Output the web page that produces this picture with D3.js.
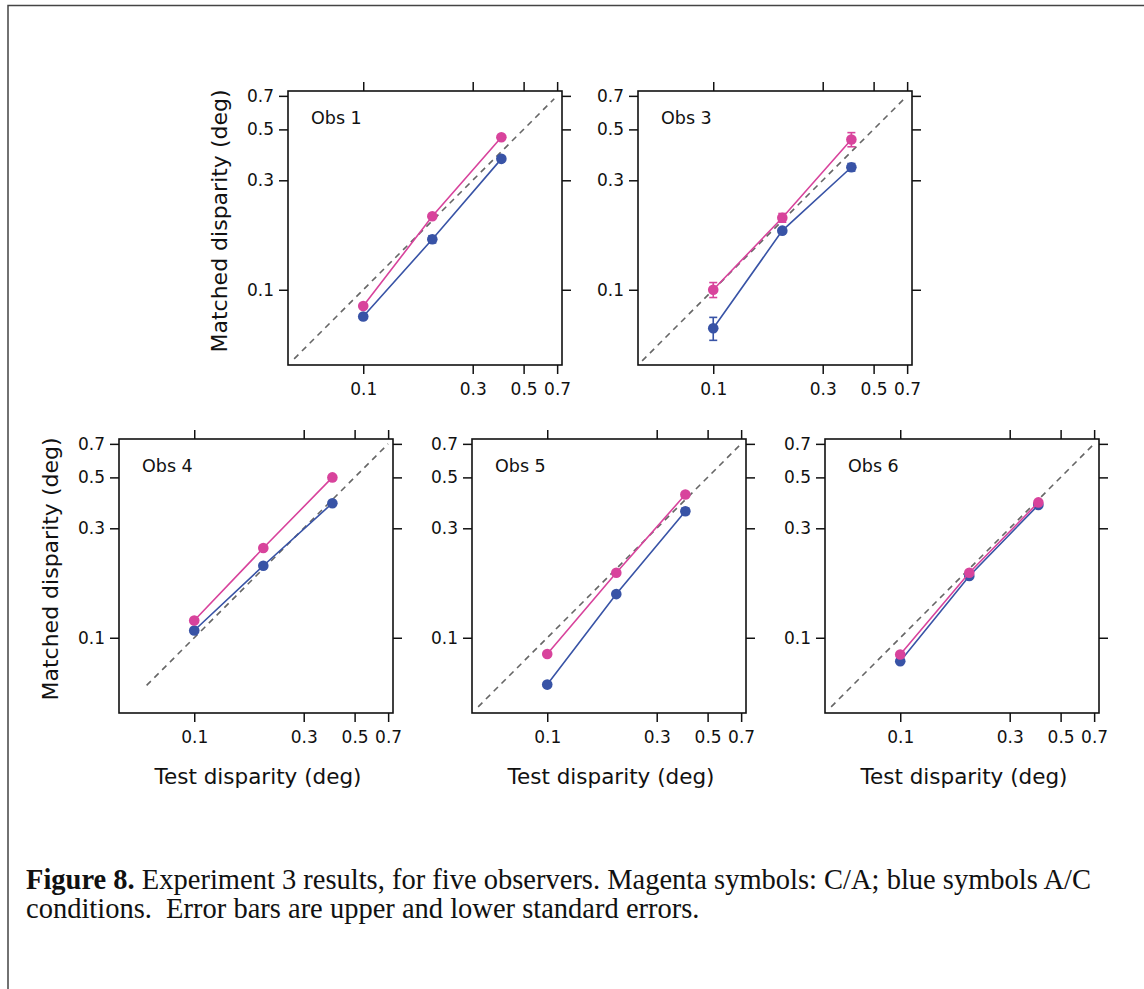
<!DOCTYPE html>
<html>
<head>
<meta charset="utf-8">
<script src="https://cdn.jsdelivr.net/npm/d3@7"></script>
<style>
  body { margin: 0; background: #fff; }
  svg { display: block; }
</style>
</head>
<body>
<div id="chart"></div>
<script>
// observers and test disparities (deg)
var observers = ["Obs 1", "Obs 3", "Obs 4", "Obs 5", "Obs 6"];
var testDisparity = [0.1, 0.2, 0.4];

// matched disparity, magenta = C/A, blue = A/C
var magentaMatch = [
  [0.085, 0.209, 0.462],
  [0.100, 0.206, 0.452],
  [0.119, 0.246, 0.500],
  [0.085, 0.192, 0.421],
  [0.0845, 0.192, 0.389]
];
var blueMatch = [
  [0.0765, 0.166, 0.372],
  [0.068, 0.181, 0.342],
  [0.1076, 0.206, 0.386],
  [0.0625, 0.155, 0.356],
  [0.079, 0.186, 0.379]
];
// standard errors
var magentaSE = [
  [0, 0, 0],
  [0.0075, 0.009, 0.032],
  [0, 0, 0],
  [0, 0, 0],
  [0, 0, 0]
];
var blueSE = [
  [0, 0.006, 0],
  [0.0078, 0, 0.013],
  [0, 0, 0],
  [0, 0, 0.011],
  [0, 0, 0]
];
// extent of the dashed identity line per panel
var diagFrom = [0.050, 0.049, 0.062, 0.050, 0.050];
var diagTo = [0.68, 0.69, 0.70, 0.687, 0.69];

var tickValues = [0.1, 0.3, 0.5, 0.7];
var axisDomain = [0.047, 0.735];

var width = 1144, height = 989;
var size = 274;
// panel frame origins
var panelPos = [
  {x: 288, y: 91, xTitle: false, yTitle: true},
  {x: 638, y: 91, xTitle: false, yTitle: false},
  {x: 119, y: 439, xTitle: true, yTitle: true},
  {x: 472, y: 439, xTitle: true, yTitle: false},
  {x: 825, y: 439, xTitle: true, yTitle: false}
];

var MAGENTA = "#d8439c";
var BLUE = "#3853a6";

var svg = d3.select("#chart").append("svg")
  .attr("width", width)
  .attr("height", height);

// page frame
svg.append("path")
  .attr("d", "M8," + height + "V5.5H" + width)
  .attr("fill", "none")
  .attr("stroke", "#444")
  .attr("stroke-width", 1.5);

var x = d3.scaleLog().domain(axisDomain).range([0, size]);
var y = d3.scaleLog().domain(axisDomain).range([size, 0]);
var fmt = d3.format(".1f");

observers.forEach(function(name, i) {
  var p = panelPos[i];
  var g = svg.append("g").attr("transform", "translate(" + p.x + "," + p.y + ")");

  // axes: labelled bottom/left, bare ticks top/right
  var axes = [
    {ax: d3.axisBottom(x).tickFormat(fmt), t: "translate(0," + size + ")"},
    {ax: d3.axisTop(x).tickFormat(""), t: null},
    {ax: d3.axisLeft(y).tickFormat(fmt), t: null},
    {ax: d3.axisRight(y).tickFormat(""), t: "translate(" + size + ",0)"}
  ];
  axes.forEach(function(a, k) {
    var ag = g.append("g")
      .attr("transform", a.t)
      .call(a.ax.tickValues(tickValues).tickSizeOuter(0).tickSize(9)
        .tickPadding(k === 0 ? 9 : 5));
    ag.select(".domain").remove();
    ag.selectAll("line").attr("stroke", "#111").attr("stroke-width", 1.5);
    ag.selectAll("text")
      .attr("fill", "#111")
      .style("font-family", "'DejaVu Sans', sans-serif")
      .style("font-size", "17px");
  });

  g.append("rect")
    .attr("width", size).attr("height", size)
    .attr("fill", "none")
    .attr("stroke", "#111")
    .attr("stroke-width", 1.6);

  // identity line
  g.append("line")
    .attr("x1", x(diagFrom[i])).attr("y1", y(diagFrom[i]))
    .attr("x2", x(diagTo[i])).attr("y2", y(diagTo[i]))
    .attr("stroke", "#666")
    .attr("stroke-width", 1.6)
    .attr("stroke-dasharray", "6,5");

  var series = [
    {vals: blueMatch[i], se: blueSE[i], color: BLUE},
    {vals: magentaMatch[i], se: magentaSE[i], color: MAGENTA}
  ];
  var line = d3.line()
    .x(function(d) { return x(d[0]); })
    .y(function(d) { return y(d[1]); });

  series.forEach(function(s) {
    var pts = testDisparity.map(function(t, j) { return [t, s.vals[j], s.se[j]]; });
    g.append("path")
      .datum(pts)
      .attr("d", line)
      .attr("fill", "none")
      .attr("stroke", s.color)
      .attr("stroke-width", 1.6);

    var eb = g.selectAll(null)
      .data(pts.filter(function(d) { return d[2] > 0; }))
      .enter().append("g")
      .attr("stroke", s.color)
      .attr("stroke-width", 1.6);
    eb.append("line")
      .attr("x1", function(d) { return x(d[0]); })
      .attr("x2", function(d) { return x(d[0]); })
      .attr("y1", function(d) { return y(d[1] + d[2]); })
      .attr("y2", function(d) { return y(d[1] - d[2]); });
    [1, -1].forEach(function(sign) {
      eb.append("line")
        .attr("x1", function(d) { return x(d[0]) - 4; })
        .attr("x2", function(d) { return x(d[0]) + 4; })
        .attr("y1", function(d) { return y(d[1] + sign * d[2]); })
        .attr("y2", function(d) { return y(d[1] + sign * d[2]); });
    });

    g.selectAll(null)
      .data(pts)
      .enter().append("circle")
      .attr("cx", function(d) { return x(d[0]); })
      .attr("cy", function(d) { return y(d[1]); })
      .attr("r", 5.3)
      .attr("fill", s.color);
  });

  g.append("text")
    .attr("x", 23).attr("y", 33)
    .style("font-family", "'DejaVu Sans', sans-serif")
    .style("font-size", "17.5px")
    .attr("fill", "#111")
    .text(name);

  if (p.xTitle) {
    g.append("text")
      .attr("x", size / 2 + 2).attr("y", size + 71)
      .attr("text-anchor", "middle")
      .style("font-family", "'DejaVu Sans', sans-serif")
      .style("font-size", "21.5px")
      .attr("fill", "#111")
      .text("Test disparity (deg)");
  }
  if (p.yTitle) {
    g.append("text")
      .attr("transform", "translate(-61," + (size / 2 - 7) + ") rotate(-90)")
      .attr("text-anchor", "middle")
      .style("font-family", "'DejaVu Sans', sans-serif")
      .style("font-size", "22px")
      .attr("fill", "#111")
      .text("Matched disparity (deg)");
  }
});

// caption
var cap = svg.append("text")
  .attr("x", 26).attr("y", 889)
  .style("font-family", "'Liberation Serif', 'Times New Roman', serif")
  .style("font-size", "28.5px")
  .attr("fill", "#111");
cap.append("tspan").style("font-weight", "bold").text("Figure 8.");
cap.append("tspan").text(" Experiment 3 results, for five observers. Magenta symbols: C/A; blue symbols A/C");
svg.append("text")
  .attr("x", 26).attr("y", 918)
  .style("font-family", "'Liberation Serif', 'Times New Roman', serif")
  .style("font-size", "28.5px")
  .attr("fill", "#111")
  .style("white-space", "pre")
  .text("conditions.  Error bars are upper and lower standard errors.");
</script>
</body>
</html>
